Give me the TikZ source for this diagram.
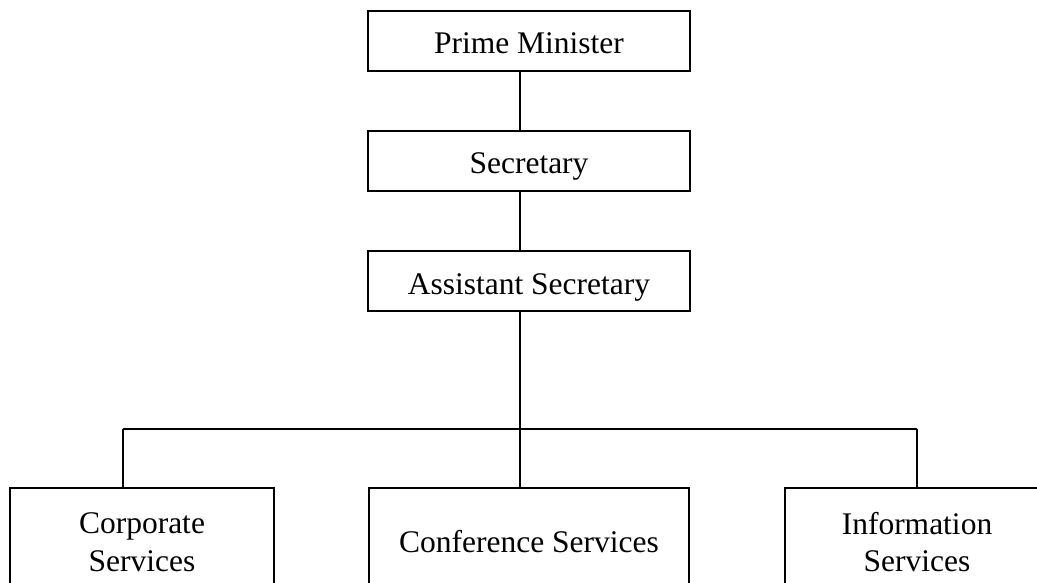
\documentclass[tikz,border=0pt]{standalone}
\usepackage{fontspec}
\setmainfont{Liberation Serif}
\begin{document}
\begin{tikzpicture}[x=1pt,y=-1pt,
  every node/.style={font=\fontsize{31.5}{37.5}\selectfont},
  topbox/.style={draw,line width=2pt,minimum width=322pt,minimum height=60pt,inner sep=0pt,text height=26pt,text depth=0pt},
  lowbox/.style={draw,line width=2pt,minimum height=108pt,inner sep=0pt,align=center},
  conn/.style={line width=2pt}]
\useasboundingbox (0,0) rectangle (1037,583);
\clip (0,0) rectangle (1037,583);
\node[topbox] (pm) at (529,41) {Prime Minister};
\node[topbox] (sec) at (529,161) {Secretary};
\node[topbox] (asst) at (529,281) {Assistant Secretary};
\node[lowbox,minimum width=264pt] (corp) at (142,542) {Corporate\\Services};
\node[lowbox,minimum width=320pt] (conf) at (529,542) {Conference Services};
\node[lowbox,minimum width=264pt] (info) at (917,542) {Information\\Services};
\coordinate (busL) at (123,429);
\coordinate (busC) at (520,429);
\coordinate (busR) at (917,429);
\draw[conn] (pm.south -| busC) -- (sec.north -| busC);
\draw[conn] (sec.south -| busC) -- (asst.north -| busC);
\draw[conn] (asst.south -| busC) -- (busC);
\draw[conn] (busL) -- (busR);
\draw[conn] (busL) -- (corp.north -| busL);
\draw[conn] (busC) -- (conf.north -| busC);
\draw[conn] (busR) -- (info.north -| busR);
\end{tikzpicture}
\end{document}
